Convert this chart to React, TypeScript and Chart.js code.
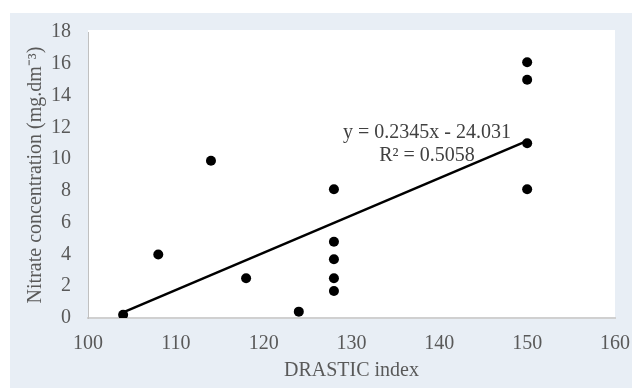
import React, { useEffect, useRef } from "react";
import { Chart, registerables } from "chart.js";

Chart.register(...registerables);

const drasticIndex = [104, 108, 114, 118, 124, 128, 128, 128, 128, 128, 150, 150, 150, 150];
const nitrate = [0.2, 4.0, 9.9, 2.5, 0.4, 8.1, 4.8, 3.7, 2.5, 1.7, 16.1, 15.0, 11.0, 8.1];
const trendX = [104, 150];
const trendY = [0.357, 11.144];
const equationLines = ["y = 0.2345x - 24.031", "R² = 0.5058"];
const xTitle = "DRASTIC index";
const yTitle = "Nitrate concentration (mg.dm⁻³)";

const FONT = "'Liberation Serif', 'Times New Roman', serif";

const bgPlugin = {
  id: "bgPlugin",
  beforeDraw(chart: any) {
    const { ctx, chartArea } = chart;
    ctx.save();
    ctx.fillStyle = "#ffffff";
    ctx.fillRect(0, 0, chart.width, chart.height);
    ctx.fillStyle = "#e8eef5";
    ctx.fillRect(10, 13, chart.width - 10, chart.height - 13);
    ctx.fillStyle = "#ffffff";
    ctx.fillRect(chartArea.left, chartArea.top - 2, chartArea.right - chartArea.left, chartArea.bottom - chartArea.top + 2);
    ctx.restore();
  },
  afterDatasetsDraw(chart: any) {
    const { ctx, scales } = chart;
    const cx = scales.x.getPixelForValue(138.6);
    const y0 = scales.y.getPixelForValue(11.65);
    ctx.save();
    ctx.font = `20px ${FONT}`;
    ctx.fillStyle = "#404040";
    ctx.textAlign = "center";
    ctx.textBaseline = "middle";
    ctx.fillText(equationLines[0], cx, y0);
    ctx.fillText(equationLines[1], cx, y0 + 23);
    ctx.restore();
  },
};

export default function App() {
  const ref = useRef<HTMLCanvasElement>(null);
  useEffect(() => {
    if (!ref.current) return;
    const chart = new Chart(ref.current, {
      type: "scatter",
      data: {
        datasets: [
          {
            type: "line",
            data: trendX.map((x, i) => ({ x, y: trendY[i] })),
            borderColor: "#000000",
            borderWidth: 2.5,
            pointRadius: 0,
            fill: false,
          } as any,
          {
            data: drasticIndex.map((x, i) => ({ x, y: nitrate[i] })),
            backgroundColor: "#000000",
            borderColor: "#000000",
            pointRadius: 5,
            pointBorderWidth: 0,
          },
        ],
      },
      options: {
        animation: false,
        responsive: false,
        layout: { padding: { left: 0, right: 17, top: 32, bottom: 0 } },
        plugins: { legend: { display: false }, tooltip: { enabled: false } },
        scales: {
          x: {
            type: "linear",
            min: 100,
            max: 160,
            afterFit: (s: any) => { s.height = 70; s.paddingRight = 0; s.paddingLeft = 0; },
            ticks: { stepSize: 10, padding: 14, color: "#595959", font: { family: FONT, size: 20 } },
            grid: { display: false, drawTicks: false },
            border: { display: true, color: "#d0d0d0", width: 2 },
            title: { display: true, text: xTitle, color: "#595959", font: { family: FONT, size: 20 }, padding: { top: 0, bottom: 5 } },
          },
          y: {
            type: "linear",
            min: 0,
            max: 18,
            afterFit: (s: any) => { s.width = 88; },
            ticks: { stepSize: 2, padding: 17, color: "#595959", font: { family: FONT, size: 20 } },
            grid: { display: false, drawTicks: false },
            border: { display: true, color: "#c0c0c0", width: 1 },
            title: { display: true, text: yTitle, color: "#595959", font: { family: FONT, size: 20 }, padding: { top: 24, bottom: 0 } },
          },
        },
      },
      plugins: [bgPlugin],
    });
    return () => chart.destroy();
  }, []);
  return (
    <div style={{ position: "absolute", left: 0, top: 0 }}>
      <canvas ref={ref} width={632} height={388} style={{ display: "block" }} />
    </div>
  );
}
